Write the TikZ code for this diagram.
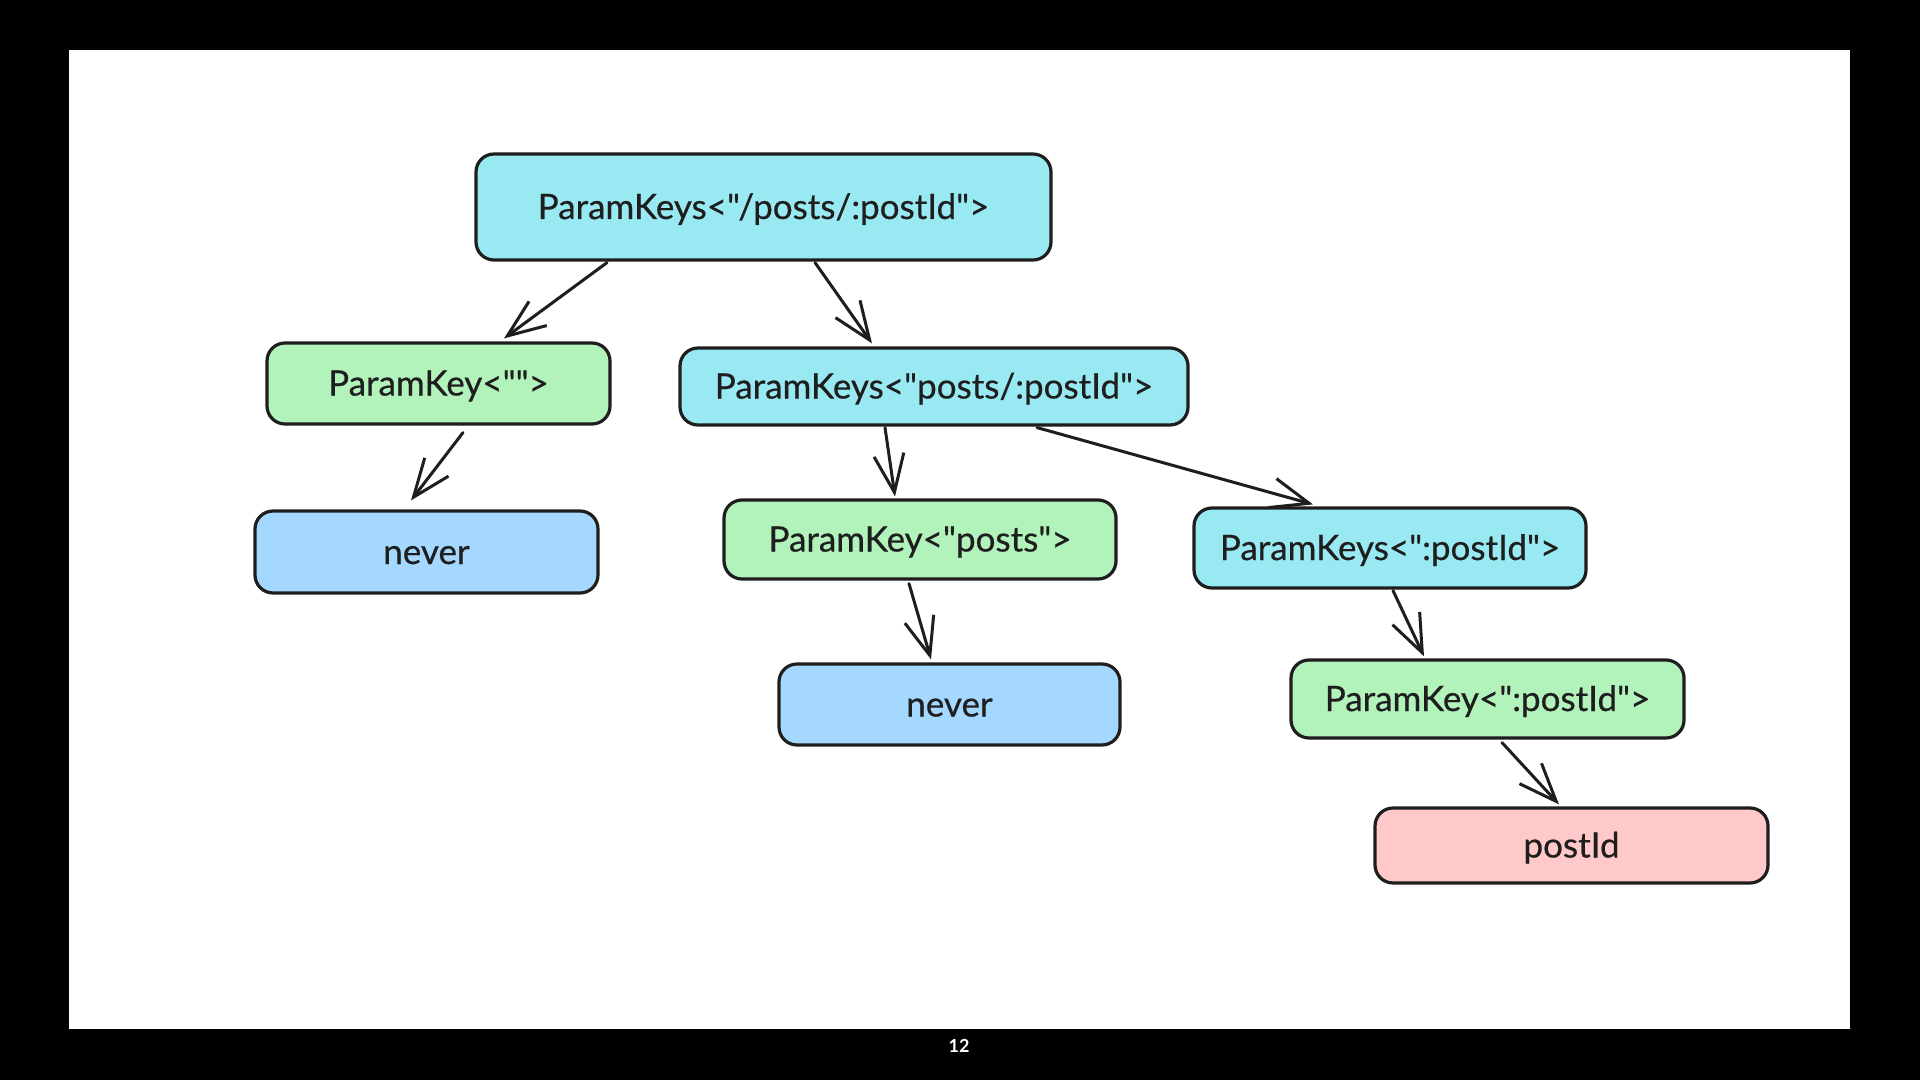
\documentclass[tikz,border=0pt]{standalone}
\usepackage{fontspec}
\setmainfont{Lato}[Ligatures=TeXOff]
\newfontfamily\nodefont{Lato}[Ligatures=TeXOff,FakeBold=0.5]
\usetikzlibrary{arrows.meta,calc}
\definecolor{ink}{HTML}{1E1E1E}
\definecolor{cyanf}{HTML}{99E9F2}
\definecolor{greenf}{HTML}{B2F2BB}
\definecolor{bluef}{HTML}{A5D8FF}
\definecolor{pinkf}{HTML}{FFC9C9}
\begin{document}
\begin{tikzpicture}[x=0.5pt,y=-0.5pt,
  box/.style={draw=ink, line width=1.6pt, rounded corners=9pt, text=ink,
    font=\nodefont\fontsize{17.5}{20}\selectfont, inner sep=0pt, anchor=center,
    text height=14pt, text depth=2pt},
  cbox/.style={box, fill=cyanf},
  gbox/.style={box, fill=greenf},
  bbox/.style={box, fill=bluef},
  pbox/.style={box, fill=pinkf},
  link/.style={draw=ink, line width=1.5pt, line cap=round,
    -{Straight Barb[length=19pt,width=15pt,line width=1.5pt]}}
]
\useasboundingbox (0,0) rectangle (1920,1080);
\fill[black] (0,0) rectangle (1920,1080);
\fill[white] (68.6,50) rectangle (1850,1028.6);
\node[text=white, font=\bfseries\fontsize{9}{10}\selectfont] (pg) at (959,1046) {12};

\node[cbox, minimum width=287.5pt, minimum height=53pt] (top) at (763.5,207) {ParamKeys<"/posts/:postId">};
\node[gbox, minimum width=171.5pt, minimum height=40.5pt] (pk0) at (438.5,383.5) {ParamKey<"">};
\node[cbox, minimum width=254pt, minimum height=38.5pt] (pks1) at (934,386.5) {ParamKeys<"posts/:postId">};
\node[bbox, minimum width=171.5pt, minimum height=41pt] (nv1) at (426.5,552) {never};
\node[gbox, minimum width=196pt, minimum height=39.5pt] (pk1) at (920,539.5) {ParamKey<"posts">};
\node[cbox, minimum width=196pt, minimum height=40pt] (pks2) at (1390,548) {ParamKeys<":postId">};
\node[bbox, minimum width=170.5pt, minimum height=40.5pt] (nv2) at (949.5,704.5) {never};
\node[gbox, minimum width=196.5pt, minimum height=39pt] (pk2) at (1487.5,699) {ParamKey<":postId">};
\node[pbox, minimum width=196.5pt, minimum height=37.5pt] (pid) at (1571.5,845.5) {postId};

\draw[link] ($(top.south)+(-156.5,1)$) -- ($(pk0.north)+(65.5,-3)$);
\draw[link] ($(top.south)+(51.5,1)$) -- ($(pks1.north)+(-62,-3)$);
\draw[link] ($(pk0.south)+(24.5,7)$) -- ($(nv1.north)+(-15.5,-9)$);
\draw[link] ($(pks1.south)+(-49,1)$) -- ($(pk1.north)+(-25,-2)$);
\draw[link] ($(pks1.south)+(103,1)$) -- ($(pks2.north)+(-77,-2)$);
\draw[link] ($(pk1.south)+(-11,3)$) -- ($(nv2.north)+(-18.5,-3)$);
\draw[link] ($(pks2.south)+(3,1)$) -- ($(pk2.north)+(-63.5,-2)$);
\draw[link] ($(pk2.south)+(14.5,3)$) -- ($(pid.north)+(-12.5,-2)$);
\end{tikzpicture}
\end{document}
